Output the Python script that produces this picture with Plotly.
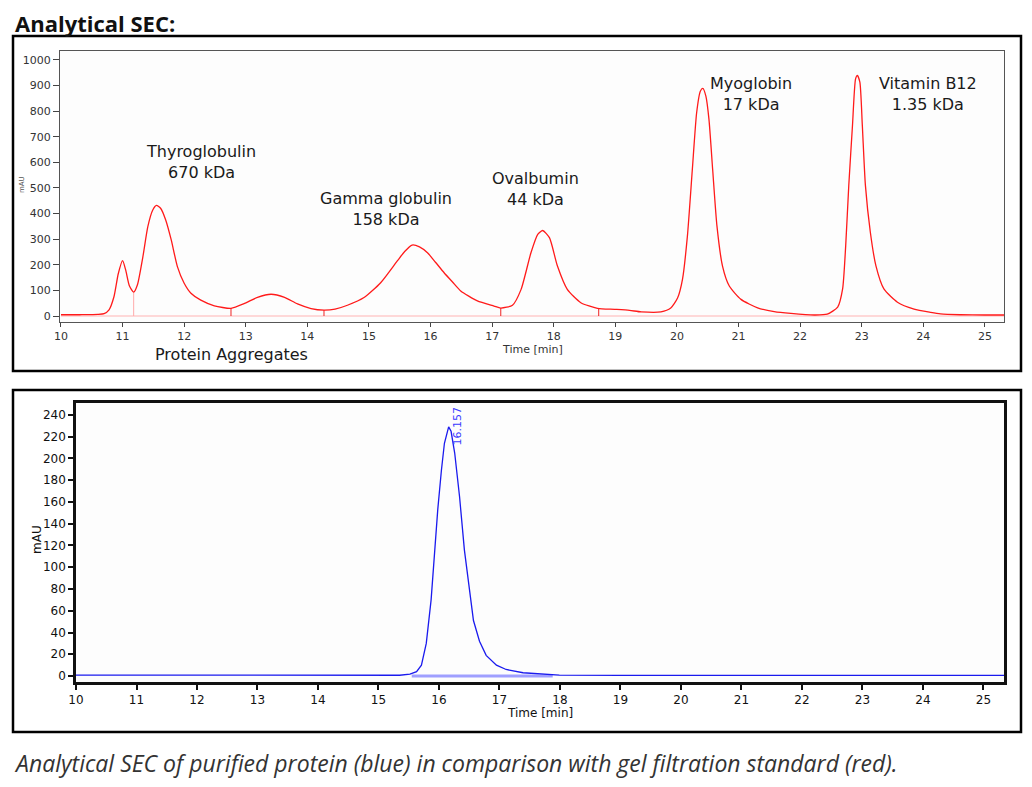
import plotly.graph_objects as go

# %% data
# gel filtration standard (red), time [min] vs signal
std_time = [10.0, 10.3, 10.6, 10.70, 10.78, 10.86, 10.93, 11.0, 11.05, 11.11,
            11.18, 11.24, 11.33, 11.41, 11.49, 11.55, 11.62, 11.70, 11.79, 11.89,
            12.0, 12.11, 12.27, 12.49, 12.76, 12.98, 13.19, 13.41, 13.63, 13.84,
            14.06, 14.27, 14.45, 14.65, 14.92, 15.19, 15.46, 15.58, 15.70, 15.82,
            15.95, 16.08, 16.22, 16.36, 16.49, 16.76, 17.03, 17.14, 17.33, 17.47,
            17.63, 17.74, 17.82, 17.93, 18.06, 18.22, 18.44, 18.71, 18.99, 19.23,
            19.42, 19.74, 19.90, 20.01, 20.09, 20.17, 20.25, 20.32, 20.38, 20.42,
            20.47, 20.52, 20.58, 20.65, 20.74, 20.85, 21.04, 21.31, 21.58, 21.85,
            22.23, 22.44, 22.61, 22.69, 22.74, 22.79, 22.85, 22.90, 22.93, 22.97,
            23.01, 23.06, 23.14, 23.23, 23.36, 23.58, 23.85, 24.12, 24.28, 24.6,
            25.0, 25.32]
std_signal = [5, 5, 6, 9, 24, 75, 165, 216, 180, 118,
              93, 121, 232, 349, 414, 432, 420, 375, 297, 193,
              128, 89, 62, 40, 30, 49, 73, 85, 73, 47,
              29, 23, 27, 42, 72, 130, 215, 252, 277, 270,
              247, 210, 169, 132, 98, 59, 39, 31, 42, 104,
              247, 319, 334, 306, 195, 104, 52, 30, 26, 22,
              16, 16, 31, 70, 143, 312, 572, 794, 878, 889,
              859, 768, 572, 351, 195, 117, 65, 32, 17, 10,
              4, 7, 35, 106, 275, 510, 744, 926, 940, 913,
              744, 510, 327, 197, 106, 54, 27, 14, 8, 5,
              4, 4]

# integration drop lines of the standard run
drop_time = [11.18, 12.76, 14.27, 17.14, 18.73]
drop_top = [93, 30, 23, 31, 28]
drop_color = ["#ffaaaa", "#ee2222", "#ee2222", "#ee2222", "#ee2222"]

# peak labels of the standard
peak_names = ["Thyroglobulin", "Gamma globulin", "Ovalbumin", "Myoglobin", "Vitamin B12"]
peak_sizes = ["670 kDa", "158 kDa", "44 kDa", "17 kDa", "1.35 kDa"]
peak_label_t = [12.27, 15.28, 17.71, 21.20, 24.07]
peak_label_v = [600, 418, 498, 867, 866]

# purified protein (blue), time [min] vs mAU
prot_time = [10.0, 11.0, 12.0, 13.0, 14.0, 15.0, 15.35, 15.52, 15.63, 15.71,
             15.79, 15.87, 15.93, 15.98, 16.04, 16.09, 16.16, 16.20, 16.26, 16.34,
             16.42, 16.51, 16.57, 16.67, 16.78, 16.95, 17.11, 17.39, 17.66, 17.99,
             19.0, 20.0, 21.0, 22.0, 23.0, 23.3, 23.6, 24.0, 25.0, 25.34]
prot_mau = [0.8, 0.7, 0.6, 0.6, 0.6, 0.6, 0.7, 1.8, 4, 10,
            30, 70, 116, 153, 189, 214, 229, 225, 205, 165,
            116, 76, 51, 32, 19, 10, 6, 3, 1.8, 0.9,
            0.6, 0.5, 0.5, 0.5, 0.4, 0.0, 0.3, 0.5, 0.5, 0.5]
prot_base_t = [15.55, 17.88]
prot_base_v = [0, 0]
prot_peak_t = 16.157

# page body keeps its default 8px margin, so the figure is 16px smaller
PAD = 8
W, H = 1032 - 2 * PAD, 787 - 2 * PAD


def px_x(p):
    return (p - PAD) / W


def px_y(p):
    return 1 - (p - PAD) / H


# %%
fig = go.Figure()

fig.add_trace(go.Scatter(x=[std_time[0], std_time[-1]], y=[0, 0], mode="lines",
                         line=dict(color="#ffb3b3", width=1), xaxis="x", yaxis="y"))
for t, top, c in zip(drop_time, drop_top, drop_color):
    fig.add_trace(go.Scatter(x=[t, t], y=[0, top], mode="lines",
                             line=dict(color=c, width=1), xaxis="x", yaxis="y"))
fig.add_trace(go.Scatter(x=std_time, y=std_signal, mode="lines",
                         line=dict(color="#ff1a1a", width=1.3, shape="spline", smoothing=0.6),
                         xaxis="x", yaxis="y"))

fig.add_trace(go.Scatter(x=prot_base_t, y=prot_base_v, mode="lines",
                         line=dict(color="#9f9fff", width=3), xaxis="x2", yaxis="y2"))
fig.add_trace(go.Scatter(x=prot_time, y=prot_mau, mode="lines",
                         line=dict(color="#1a1aee", width=1.3), xaxis="x2", yaxis="y2"))

top_ax = dict(ticks="outside", tickcolor="#444", showline=True, linecolor="#555",
              linewidth=1, mirror=True, showgrid=False, zeroline=False,
              automargin=False, tickfont=dict(family="DejaVu Sans", size=11, color="#333"))
bot_ax = dict(ticks="outside", ticklen=5, tickwidth=2, tickcolor="#111",
              showline=True, linecolor="#111", linewidth=2.5, mirror=True,
              showgrid=False, zeroline=False, automargin=False,
              tickfont=dict(family="DejaVu Sans", size=12, color="#111"))

fig.update_layout(
    width=W, height=H, showlegend=False,
    margin=dict(l=0, r=0, t=0, b=0),
    paper_bgcolor="white", plot_bgcolor="#fdfdfd",
    xaxis=dict(top_ax, domain=[px_x(60), px_x(1004)], anchor="y",
               range=[9.984, 25.31], dtick=1, tick0=10, ticklen=4),
    yaxis=dict(top_ax, domain=[px_y(322), px_y(51)], anchor="x",
               range=[-23.4, 1035], dtick=100, tick0=0, ticklen=6),
    xaxis2=dict(bot_ax, domain=[px_x(76), px_x(1004)], anchor="y2",
                range=[10, 25.34], dtick=1, tick0=10),
    yaxis2=dict(bot_ax, domain=[px_y(682), px_y(403)], anchor="x2",
                range=[-5.5, 251], dtick=20, tick0=0),
)

# outer frames of the two panels
for y0, y1 in [(371, 36), (732, 390)]:
    fig.add_shape(type="rect", xref="paper", yref="paper",
                  x0=px_x(13), x1=px_x(1021), y0=px_y(y0), y1=px_y(y1),
                  line=dict(color="black", width=2.5))


def note(x, y, text, size, color="#1a1a1a", family="DejaVu Sans", angle=0,
         xanchor="center", ref="paper"):
    if ref == "paper":
        x, y = px_x(x), px_y(y)
        xref, yref = "paper", "paper"
    else:
        xref, yref = ref
    fig.add_annotation(x=x, y=y, xref=xref, yref=yref, text=text, showarrow=False,
                       textangle=angle, xanchor=xanchor, yanchor="middle",
                       font=dict(family=family, size=size, color=color))


for name, size, t, v in zip(peak_names, peak_sizes, peak_label_t, peak_label_v):
    note(t, v, f"{name}<br>{size}", 16, ref=("x", "y"))

note(231, 355, "Protein Aggregates", 16)
note(532, 349, "Time [min]", 11, color="#333")
note(22, 185, "mAU", 7, color="#555", angle=-90)

note(prot_peak_t + 0.15, 230, f"{prot_peak_t:.3f}", 11, color="#3a3aff", angle=-90,
     ref=("x2", "y2"))
note(540, 713, "Time [min]", 12, color="#111")
note(37, 540, "mAU", 12, color="#111", angle=-90)

note(13, 22.5, "<b>Analytical SEC:</b>", 22, color="#111", family="Open Sans",
     xanchor="left")
note(12, 763,
     "<i>Analytical SEC of purified protein (blue) in comparison with gel filtration standard (red).</i>",
     23, color="#333", family="Open Sans", xanchor="left")

fig.write_html("out.html")
